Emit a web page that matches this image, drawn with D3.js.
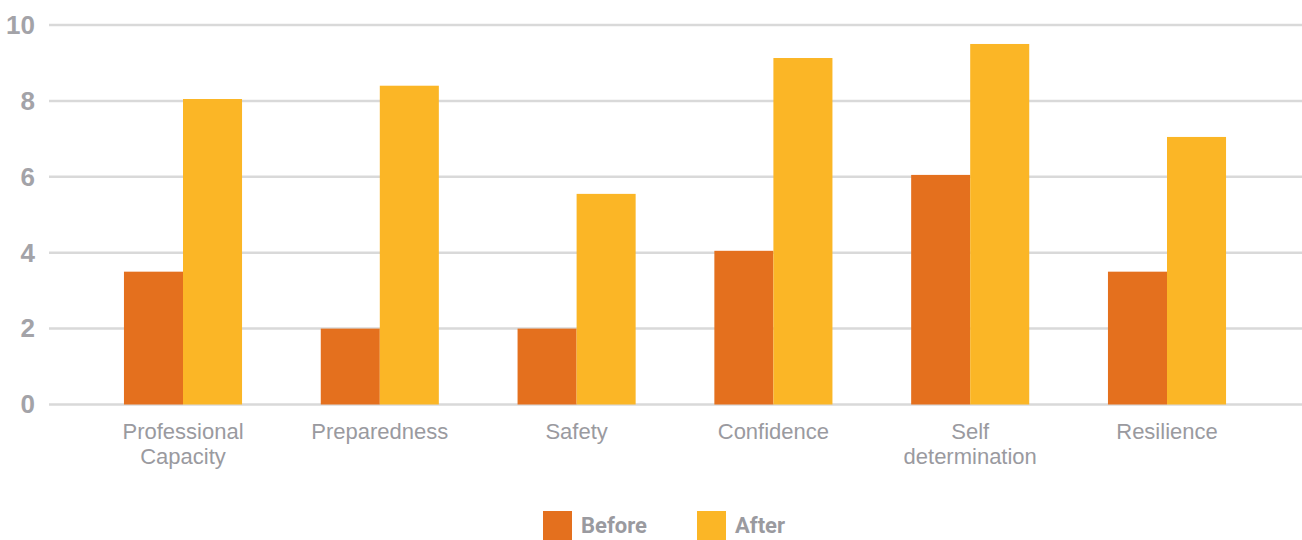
<!DOCTYPE html>
<html>
<head>
<meta charset="utf-8">
<script src="https://cdn.jsdelivr.net/npm/d3@7"></script>
<style>
  body { margin: 0; background: #fff; }
  svg { display: block; font-family: "Roboto", "Open Sans", sans-serif; }
</style>
</head>
<body>
<svg id="chart" width="1302" height="540"></svg>
<script>
// Data
var categories = [["Professional", "Capacity"], ["Preparedness"], ["Safety"], ["Confidence"], ["Self", "determination"], ["Resilience"]];
var series = ["Before", "After"];
var before = [3.5, 2.0, 2.0, 4.05, 6.05, 3.5];
var after = [8.05, 8.4, 5.55, 9.13, 9.5, 7.05];
var yTicks = [0, 2, 4, 6, 8, 10];
var colors = ["#E4701E", "#FBB626"];

var svg = d3.select("#chart");
var gridLeft = 49, gridRight = 1302;

var y = d3.scaleLinear().domain([0, 10]).range([404.5, 25]);
var x0 = d3.scaleBand().domain(d3.range(categories.length)).range([84.6, 1265.4]).paddingInner(0.4).paddingOuter(0.2);
var x1 = d3.scaleBand().domain(series).range([0, x0.bandwidth()]);

// Gridlines
svg.append("g").selectAll("line")
    .data(yTicks)
    .enter()
    .append("line")
    .attr("x1", gridLeft)
    .attr("x2", gridRight)
    .attr("y1", function (d) { return y(d); })
    .attr("y2", function (d) { return y(d); })
    .attr("stroke", "#d9d9d9")
    .attr("stroke-width", 2.5);

// Y axis labels
var yAxis = d3.axisLeft(y).tickValues(yTicks).tickSize(0).tickPadding(0);
var yg = svg.append("g").attr("transform", "translate(35,0)").call(yAxis);
yg.select(".domain").remove();
yg.selectAll("text")
    .attr("fill", "#a3a3a8")
    .attr("font-size", "26px")
    .attr("font-weight", "bold");

// Bars
var rows = categories.map(function (c, i) { return [before[i], after[i]]; });
var groups = svg.append("g").selectAll("g")
    .data(rows)
    .enter()
    .append("g")
    .attr("transform", function (d, i) { return "translate(" + x0(i) + ",0)"; });
groups.selectAll("rect")
    .data(function (d) { return d.map(function (v, j) { return { key: series[j], value: v, idx: j }; }); })
    .enter()
    .append("rect")
    .attr("x", function (d) { return x1(d.key); })
    .attr("width", x1.bandwidth())
    .attr("y", function (d) { return y(d.value); })
    .attr("height", function (d) { return y(0) - y(d.value); })
    .attr("fill", function (d) { return colors[d.idx]; });

// Category labels (ticks already sit at band centres)
var xAxis = d3.axisBottom(x0).tickSize(0).tickFormat("");
var xg = svg.append("g").attr("transform", "translate(0," + y(0) + ")").call(xAxis);
xg.select(".domain").remove();
xg.selectAll(".tick").each(function (d) {
    var t = d3.select(this).append("text")
        .attr("text-anchor", "middle")
        .attr("fill", "#9a9a9f")
        .attr("font-size", "22px");
    categories[d].forEach(function (line, k) {
        t.append("tspan")
            .attr("x", 0)
            .attr("y", 34 + k * 25)
            .text(line);
    });
});

// Legend
var legendX = [543, 697];
var legend = svg.append("g").selectAll("g")
    .data(series)
    .enter()
    .append("g")
    .attr("transform", function (d, i) { return "translate(" + legendX[i] + ",511)"; });
legend.append("rect")
    .attr("width", 29)
    .attr("height", 29)
    .attr("fill", function (d, i) { return colors[i]; });
legend.append("text")
    .attr("x", 38)
    .attr("y", 22)
    .attr("fill", "#9a9a9f")
    .attr("font-size", "22px")
    .attr("font-weight", "bold")
    .text(function (d) { return d; });
</script>
</body>
</html>
